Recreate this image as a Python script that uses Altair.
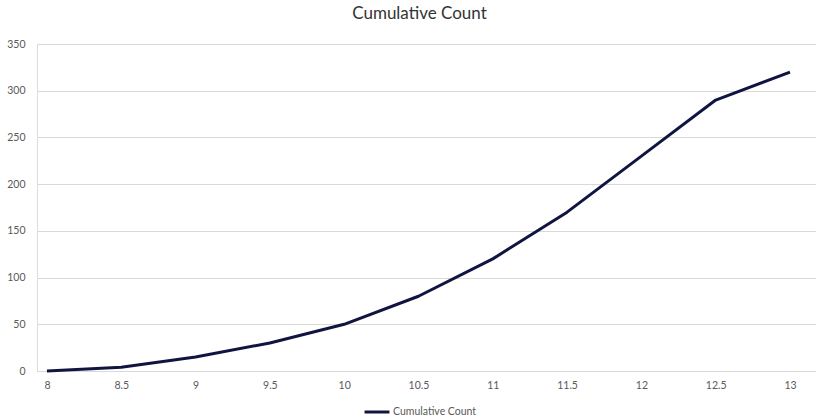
import altair as alt
import pandas as pd

# Cumulative count at each half-step
x_values = [8, 8.5, 9, 9.5, 10, 10.5, 11, 11.5, 12, 12.5, 13]
cumulative = [0, 4, 15, 30, 50, 80, 120, 170, 230, 290, 320]
series_name = "Cumulative Count"

df = pd.DataFrame({"x": x_values, "count": cumulative, "series": series_name})

FONT = "Lato"
GRID = "#d9d9d9"
LABEL = "#595959"
NAVY = "#0f1540"

line = alt.Chart(df).mark_line(strokeWidth=3, interpolate="linear", strokeJoin="round").encode(
    x=alt.X(
        "x:Q",
        scale=alt.Scale(domain=[7.933, 13.175], nice=False, zero=False),
        axis=alt.Axis(
            values=x_values,
            format="~g",
            title=None,
            grid=False,
            ticks=False,
            domainColor=GRID,
            domainWidth=1,
            labelPadding=9,
            labelFontSize=10.5,
            labelColor=LABEL,
            labelFont=FONT,
        ),
    ),
    y=alt.Y(
        "count:Q",
        scale=alt.Scale(domain=[0, 350], nice=False),
        axis=alt.Axis(
            values=list(range(0, 351, 50)),
            title=None,
            domain=False,
            ticks=False,
            gridColor=GRID,
            gridWidth=1,
            labelPadding=12,
            labelFontSize=10.5,
            labelColor=LABEL,
            labelFont=FONT,
        ),
    ),
    color=alt.Color(
        "series:N",
        scale=alt.Scale(range=[NAVY]),
        legend=alt.Legend(
            title=None,
            orient="none",
            legendX=326,
            legendY=354,
            symbolType="stroke",
            symbolStrokeWidth=3,
            symbolSize=620,
            labelFontSize=10.5,
            labelColor=LABEL,
            labelFont=FONT,
            labelOffset=2,
        ),
    ),
)

chart = line.properties(
    width=779,
    height=327,
    title=alt.TitleParams(
        "Cumulative Count",
        anchor="middle",
        fontSize=17,
        font=FONT,
        fontWeight="normal",
        color="#333333",
        dx=-7,
        offset=16,
    ),
    autosize=alt.AutoSizeParams(type="none"),
    padding={"left": 37, "top": 44, "right": 0, "bottom": 48},
).configure_view(stroke=None).configure(background="white")

chart.save("out.html", embed_options={"renderer": "svg", "actions": False})
